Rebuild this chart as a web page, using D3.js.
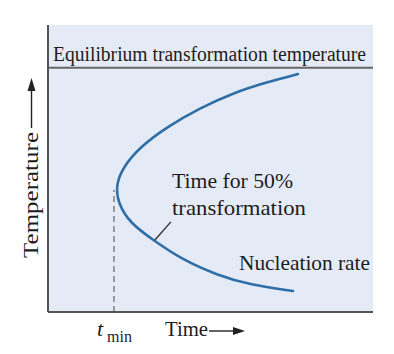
<!DOCTYPE html>
<html>
<head>
<meta charset="utf-8">
<script src="https://cdn.jsdelivr.net/npm/d3@7"></script>
<style>
  body { margin: 0; background: #fff; }
  text { font-family: "Liberation Serif", "Times New Roman", serif; fill: #1c1c1c; }
</style>
</head>
<body>
<div id="plot"></div>
<script>
// curve: time for 50% transformation (arbitrary units), low temp -> high temp
const curveTime = [75.4, 62.2, 52.0, 41.5, 32.3, 25.2, 21.5, 20.9, 23.1, 28.3, 36.6, 46.8, 56.9, 67.4, 76.9];
const curveTemp = [7.3, 9.4, 12.9, 18.1, 25.1, 31.0, 38.0, 44.3, 50.5, 57.5, 64.5, 71.1, 76.3, 80.1, 82.9];

const equilibriumTemp = 85.1;
const tMin = 20.3;
const tMinTemp = 42.5;
const pointerTime = [32.9, 37.8];
const pointerTemp = [25.1, 31.4];

const labels = {
  equilibrium: "Equilibrium transformation temperature",
  curve: ["Time for 50%", "transformation"],
  nucleation: "Nucleation rate",
  xAxis: "Time",
  yAxis: "Temperature"
};

window.addEventListener("load", main);

function main(){
  const width = 394, height = 354;
  const left = 48, right = 373, top = 25, bottom = 312;

  let svg = d3.select("#plot").append("svg")
    .attr("width", width)
    .attr("height", height);

  let x = d3.scaleLinear().domain([0, 100]).range([left, right]);
  let y = d3.scaleLinear().domain([0, 100]).range([bottom, top]);

  // panel background
  svg.append("rect")
    .attr("x", x(0)).attr("y", y(100))
    .attr("width", x(100) - x(0)).attr("height", y(0) - y(100))
    .attr("fill", "#e5ebf6");

  // equilibrium line
  svg.append("line")
    .attr("x1", x(0)).attr("x2", x(100))
    .attr("y1", y(equilibriumTemp)).attr("y2", y(equilibriumTemp))
    .attr("stroke", "#666").attr("stroke-width", 1.8);

  svg.append("text")
    .attr("x", 53).attr("y", 61)
    .attr("font-size", 20)
    .attr("textLength", 313).attr("lengthAdjust", "spacingAndGlyphs")
    .text(labels.equilibrium);

  // dashed t_min line
  svg.append("line")
    .attr("x1", x(tMin)).attr("x2", x(tMin))
    .attr("y1", y(0)).attr("y2", y(tMinTemp))
    .attr("stroke", "#777").attr("stroke-width", 1.4)
    .attr("stroke-dasharray", "6,4");

  // C-curve, smoothed through the read-off points
  let pts = curveTime.map((t, i) => [t, curveTemp[i]]);
  let line = d3.line()
    .x(d => x(d[0])).y(d => y(d[1]))
    .curve(d3.curveBasis);
  svg.append("path")
    .attr("d", line(pts))
    .attr("fill", "none")
    .attr("stroke", "#2f6ea6")
    .attr("stroke-width", 2.6)
    .attr("stroke-linecap", "round");

  // pointer
  svg.append("line")
    .attr("x1", x(pointerTime[0])).attr("y1", y(pointerTemp[0]))
    .attr("x2", x(pointerTime[1])).attr("y2", y(pointerTemp[1]))
    .attr("stroke", "#333").attr("stroke-width", 1.4);

  svg.append("text")
    .attr("x", 172).attr("y", 188)
    .attr("font-size", 22)
    .attr("textLength", 121).attr("lengthAdjust", "spacingAndGlyphs")
    .text(labels.curve[0]);
  svg.append("text")
    .attr("x", 172).attr("y", 215)
    .attr("font-size", 22)
    .attr("textLength", 134).attr("lengthAdjust", "spacingAndGlyphs")
    .text(labels.curve[1]);

  svg.append("text")
    .attr("x", 239).attr("y", 270)
    .attr("font-size", 22)
    .attr("textLength", 131).attr("lengthAdjust", "spacingAndGlyphs")
    .text(labels.nucleation);

  // axes
  svg.append("line")
    .attr("x1", x(0)).attr("x2", x(0))
    .attr("y1", y(100)).attr("y2", y(0))
    .attr("stroke", "#555").attr("stroke-width", 2);
  svg.append("line")
    .attr("x1", x(0)).attr("x2", x(100))
    .attr("y1", y(0)).attr("y2", y(0))
    .attr("stroke", "#555").attr("stroke-width", 2);

  // x label
  svg.append("text")
    .attr("x", 97).attr("y", 336)
    .attr("font-size", 22).attr("font-style", "italic")
    .text("t");
  svg.append("text")
    .attr("x", 107).attr("y", 342)
    .attr("font-size", 16)
    .text("min");
  svg.append("text")
    .attr("x", 165).attr("y", 336)
    .attr("font-size", 22)
    .attr("textLength", 43).attr("lengthAdjust", "spacingAndGlyphs")
    .text(labels.xAxis);
  svg.append("line")
    .attr("x1", 209).attr("x2", 236)
    .attr("y1", 331).attr("y2", 331)
    .attr("stroke", "#222").attr("stroke-width", 1.4);
  svg.append("path")
    .attr("d", "M233,327 L245,331 L233,335 Z")
    .attr("fill", "#222");

  // y label
  svg.append("text")
    .attr("transform", "translate(38,258) rotate(-90)")
    .attr("font-size", 22)
    .attr("textLength", 126).attr("lengthAdjust", "spacingAndGlyphs")
    .text(labels.yAxis);
  svg.append("line")
    .attr("x1", 31.5).attr("x2", 31.5)
    .attr("y1", 128).attr("y2", 88)
    .attr("stroke", "#222").attr("stroke-width", 1.4);
  svg.append("path")
    .attr("d", "M27.5,91 L31.5,78 L35.5,91 Z")
    .attr("fill", "#222");
}
</script>
</body>
</html>
